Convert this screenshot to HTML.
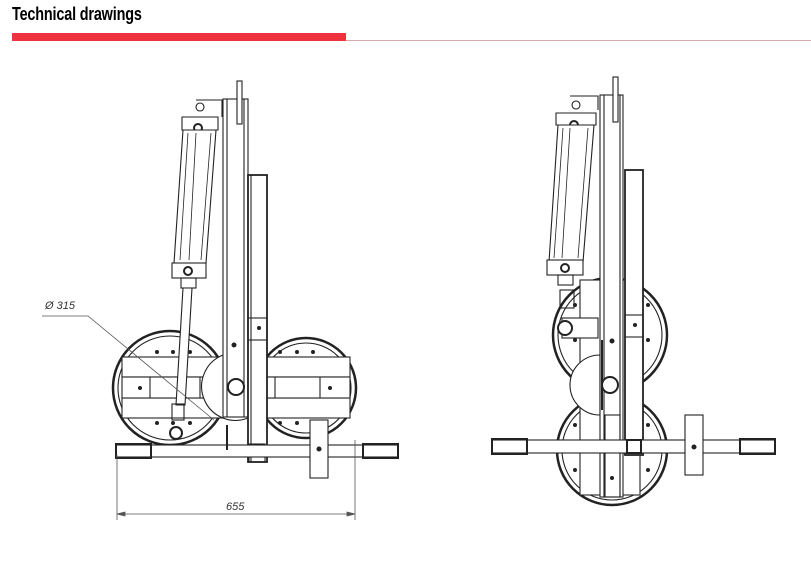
<!DOCTYPE html>
<html><head><meta charset="utf-8"><style>
html,body{margin:0;padding:0;background:#fff;width:811px;height:566px;overflow:hidden}
.t{position:absolute;left:12px;top:4px;font-family:"Liberation Sans Narrow","Liberation Sans",sans-serif;font-weight:bold;font-size:18px;color:#000;transform:scaleX(0.8);transform-origin:left top;letter-spacing:-0.2px}
</style></head><body>
<div class="t">Technical drawings</div>
<svg width="811" height="566" style="position:absolute;left:0;top:0" xmlns="http://www.w3.org/2000/svg">
<rect x="12" y="33" width="334" height="8" fill="#f0323f"/>
<line x1="346" y1="40.5" x2="811" y2="40.5" stroke="#d9a9ad" stroke-width="1"/>
<g fill="none" stroke="#222" stroke-width="1.1">
<!-- LEFT VIEW -->
<circle cx="170" cy="388" r="57" stroke-width="2.5"/>
<circle cx="170" cy="388" r="52"/>
<circle cx="306" cy="388" r="50" stroke-width="2.5"/>
<circle cx="306" cy="388" r="45"/>
<rect x="122" y="357" width="228" height="20" fill="#fff"/>
<rect x="122" y="398" width="228" height="20" fill="#fff"/>
<rect x="122" y="377" width="228" height="21" fill="#fff"/>
<line x1="150" y1="377" x2="150" y2="398"/><line x1="200" y1="377" x2="200" y2="398"/>
<line x1="275" y1="377" x2="275" y2="398"/><line x1="320" y1="377" x2="320" y2="398"/>
<path d="M223 355 A32 32 0 0 0 248 418 L248 355 Z" fill="#fff"/>
<g fill="#222" stroke="none"><circle cx="157" cy="352" r="2"/><circle cx="173" cy="352" r="2"/><circle cx="190" cy="352" r="2"/><circle cx="157" cy="423" r="2"/><circle cx="173" cy="423" r="2"/><circle cx="190" cy="423" r="2"/><circle cx="280" cy="352" r="2"/><circle cx="297" cy="352" r="2"/><circle cx="313" cy="352" r="2"/><circle cx="280" cy="423" r="2"/><circle cx="297" cy="423" r="2"/><circle cx="140" cy="388" r="2"/><circle cx="330" cy="388" r="2"/></g>
<rect x="223" y="99" width="25" height="318" fill="#fff"/>
<line x1="227" y1="99" x2="227" y2="417"/><line x1="244" y1="99" x2="244" y2="417"/>
<rect x="237" y="81" width="5" height="43" fill="#fff"/>
<rect x="248" y="175" width="19" height="287" fill="#fff" stroke-width="1.8"/>
<line x1="251" y1="175" x2="251" y2="462"/>
<rect x="248" y="318" width="19" height="22"/>
<rect x="249" y="444" width="16" height="18"/>
<circle cx="236" cy="387" r="8" stroke-width="2" fill="#fff"/>
<g fill="#222" stroke="none"><circle cx="234" cy="345" r="2.5"/><circle cx="259" cy="328" r="2"/></g>
<path d="M196 100 L200 100 L222 100 L222 117"/>
<circle cx="200" cy="107" r="4"/>
<path d="M182 117 L218 117 L218 130 L182 130 Z" fill="#fff"/>
<circle cx="198" cy="128" r="4" stroke-width="2"/>
<path d="M183 130 L216 130 L206 263 L174 263 Z" fill="#fff"/>
<path d="M188 133 L180 260 M211 133 L201 260 M196 133 L189 260" stroke-width="0.8"/>
<rect x="172" y="263" width="34" height="15" fill="#fff"/>
<circle cx="188" cy="271" r="4" stroke-width="2"/>
<rect x="181" y="278" width="15" height="10"/>
<path d="M183 288 L192 288 L185 405 L176 405 Z" fill="#fff"/>
<rect x="172" y="404" width="12" height="16"/>
<circle cx="176" cy="433" r="6" stroke-width="2"/>
<rect x="116" y="445" width="282" height="12" fill="#fff"/>
<rect x="116" y="444" width="35" height="14" stroke-width="2"/>
<rect x="363" y="444" width="35" height="14" stroke-width="2"/>
<rect x="310" y="420" width="18" height="58" fill="#fff"/>
<circle cx="319" cy="449" r="2" fill="#222"/>
<line x1="227" y1="425" x2="227" y2="450" stroke-width="2"/>
<g stroke="#555" stroke-width="0.8">
<line x1="117" y1="455" x2="117" y2="520"/><line x1="355" y1="440" x2="355" y2="520"/>
<line x1="117" y1="514" x2="355" y2="514"/>
<path d="M117 514 l8 -2 v4 Z M355 514 l-8 -2 v4 Z" fill="#555"/>
<path d="M42 316 L88 316 L214 420"/>
</g>
<!-- RIGHT VIEW -->
<circle cx="610" cy="335" r="57" stroke-width="2.5"/>
<circle cx="610" cy="335" r="52"/>
<circle cx="612" cy="450" r="55" stroke-width="2.5"/>
<circle cx="612" cy="450" r="50"/>
<rect x="580" y="280" width="60" height="215" fill="#fff"/>
<path d="M600 355 A30 30 0 0 0 600 415 Z" fill="#fff"/>
<rect x="600" y="95" width="23" height="402" fill="#fff"/>
<line x1="604" y1="95" x2="604" y2="497"/><line x1="620" y1="95" x2="620" y2="497"/>
<rect x="605" y="415" width="15" height="82"/>
<rect x="613" y="77" width="5" height="45" fill="#fff"/>
<rect x="625" y="170" width="18" height="285" fill="#fff" stroke-width="1.8"/>
<rect x="625" y="315" width="18" height="22"/>
<circle cx="610" cy="385" r="8" stroke-width="2" fill="#fff"/>
<rect x="562" y="318" width="36" height="20" fill="#fff"/>
<circle cx="565" cy="328" r="7" stroke-width="2" fill="#fff"/>
<rect x="560" y="290" width="14" height="18"/>
<path d="M570 96 L598 96 L598 110"/>
<circle cx="576" cy="105" r="4"/>
<path d="M556 113 L596 113 L596 125 L556 125 Z" fill="#fff"/>
<circle cx="574" cy="125" r="4" stroke-width="2"/>
<path d="M558 125 L594 125 L583 262 L549 262 Z" fill="#fff"/>
<path d="M563 128 L554 258 M588 128 L578 258 M570 128 L562 258" stroke-width="0.8"/>
<rect x="547" y="260" width="36" height="15" fill="#fff"/>
<circle cx="565" cy="268" r="4" stroke-width="2"/>
<rect x="558" y="275" width="15" height="10"/>
<g fill="#222" stroke="none"><circle cx="575" cy="305" r="2"/><circle cx="575" cy="340" r="2"/><circle cx="648" cy="305" r="2"/><circle cx="648" cy="340" r="2"/><circle cx="575" cy="425" r="2"/><circle cx="575" cy="470" r="2"/><circle cx="648" cy="425" r="2"/><circle cx="648" cy="470" r="2"/><circle cx="612" cy="341" r="2.5"/><circle cx="635" cy="325" r="2"/><circle cx="612" cy="478" r="2"/></g>
<rect x="492" y="440" width="283" height="13" fill="#fff"/>
<rect x="492" y="439" width="35" height="15" stroke-width="2"/>
<rect x="740" y="439" width="35" height="15" stroke-width="2"/>
<rect x="627" y="440" width="14" height="13" stroke-width="2"/>
<rect x="685" y="415" width="18" height="60" fill="#fff"/>
<circle cx="694" cy="447" r="2" fill="#222"/>
<line x1="602" y1="340" x2="602" y2="410" stroke-width="2"/>
</g>
<g font-family="Liberation Sans, sans-serif" font-style="italic" font-size="11" fill="#333">
<text x="45" y="309">Ø 315</text>
<text x="226" y="510">655</text>
</g>
</svg>
</body></html>
